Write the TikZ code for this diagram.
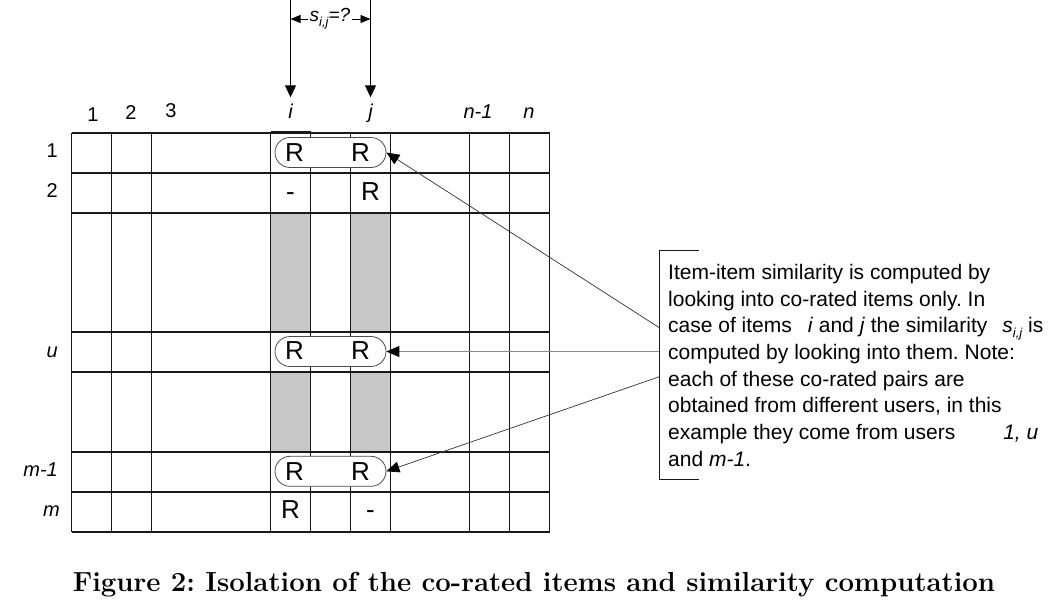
\documentclass[tikz,border=0pt]{standalone}
\usepackage{fontspec}
\newfontfamily\hv{Liberation Sans}
\usetikzlibrary{arrows.meta,shapes.misc}
\newcommand{\mysub}[1]{\raisebox{-5pt}{\fontsize{13}{13}\selectfont #1}}
\frenchspacing
\begin{document}
\begin{tikzpicture}[x=1pt,y=-1pt,
  gridline/.style={line width=1.25pt, draw=black!90},
  thickseg/.style={line width=2.2pt, draw=black!90},
  shade/.style={fill=black!22, draw=none},
  pill/.style={rounded rectangle, draw=black!70, line width=0.8pt, fill=white,
    minimum width=111pt, minimum height=30pt, inner sep=0pt},
  cell/.style={font=\hv\fontsize{26}{26}\selectfont, anchor=base, inner sep=0pt},
  lab/.style={font=\hv\fontsize{20}{20}\selectfont, anchor=base, inner sep=0pt},
  ilab/.style={font=\hv\itshape\fontsize{20}{20}\selectfont, anchor=base, inner sep=0pt},
  conn/.style={line width=0.7pt, draw=black!80, -{Triangle[length=13pt,width=11pt,color=black]}},
  connlight/.style={line width=1.1pt, draw=black!45, -{Triangle[length=13pt,width=11pt,color=black]}},
  toparr/.style={line width=1pt, draw=black, -{Triangle[length=12pt,width=11pt]}},
  harr/.style={line width=0.9pt, draw=black, -{Triangle[length=10pt,width=8pt]}},
  bracket/.style={line width=1pt, draw=black!90},
  notetext/.style={font=\hv\fontsize{21}{26.7}\selectfont, align=left, inner sep=0pt, anchor=north west},
  captext/.style={font=\fontsize{27.6}{32}\selectfont\bfseries, inner sep=0pt}]
\fill[white] (0,0) rectangle (1064,614);
\useasboundingbox (0,0) rectangle (1064,614);

% shaded cells
\fill[shade] (270.5,213) rectangle (310.5,332);
\fill[shade] (350.5,213) rectangle (390.5,332);
\fill[shade] (270.5,372) rectangle (310.5,452);
\fill[shade] (350.5,372) rectangle (390.5,452);

% grid
\foreach \x in {71.5,111.5,151.5,270.5,310.5,350.5,390.5,469.5,509.5,549.5}
  \draw[gridline] (\x,133) -- (\x,532);
\foreach \y in {133,173,213,332,372,452,492,532}
  \draw[gridline] (71.5,\y) -- (549.5,\y);
\draw[thickseg] (270.5,132.5) -- (310.5,132.5);
\draw[thickseg] (270.5,213) -- (310.5,213);
\draw[thickseg] (350.5,213) -- (390.5,213);
\draw[thickseg] (270.5,532) -- (310.5,532);
\draw[thickseg] (350.5,532) -- (390.5,532);

% pills
\node[pill] (p1) at (330.5,152.5) {};
\node[pill] (pu) at (330.5,351.5) {};
\node[pill] (pm) at (330.5,471.3) {};

% cell entries
\node[cell] (r1i) at (294.5,161) {R};
\node[cell] (r1j) at (360.5,161) {R};
\node[cell] (r2i) at (290.5,200) {-};
\node[cell] (r2j) at (370.5,200) {R};
\node[cell] (rui) at (294.5,359.5) {R};
\node[cell] (ruj) at (360.5,359.5) {R};
\node[cell] (rmai) at (294.5,480) {R};
\node[cell] (rmaj) at (360.5,480) {R};
\node[cell] (rmi) at (290.5,518.5) {R};
\node[cell] (rmj) at (370.5,518.5) {-};

% column labels
\node[lab] (c1) at (93,121.5) {1};
\node[lab] (c2) at (131,119) {2};
\node[lab] (c3) at (171,117) {3};
\node[ilab] (ci) at (290.5,118) {i};
\node[ilab] (cj) at (370.5,118) {j};
\node[ilab] (cn1) at (478,118) {n-1};
\node[ilab] (cn) at (529,118) {n};

% row labels
\node[lab, anchor=base east] (w1) at (58,157) {1};
\node[lab, anchor=base east] (w2) at (58,197) {2};
\node[ilab, anchor=base east] (wu) at (58,357) {u};
\node[ilab, anchor=base east] (wma) at (58,476) {m-1};
\node[ilab, anchor=base east] (wm) at (60,516) {m};

% top arrows
\coordinate (ti) at (290.5,0);
\coordinate (tj) at (370.5,0);
\draw[toparr] (ti) -- ([yshift=6pt]ci.north);
\draw[toparr] (tj) -- ([yshift=6pt]cj.north);
\coordinate (hi) at (290.5,19);
\coordinate (hj) at (370.5,19);
\node[font=\hv\itshape\fontsize{19}{19}\selectfont, inner sep=1.5pt] (sij) at (330,19) {s\mysub{i,j}=?};
\draw[harr] (sij) -- (hi);
\draw[harr] (sij) -- (hj);

% note bracket
\coordinate (bt) at (698.7,250.7);
\coordinate (btl) at (659.3,250.7);
\coordinate (bbl) at (659.3,479);
\coordinate (bb) at (698.7,479);
\draw[bracket] (bt) -- (btl) -- (bbl) -- (bb);

\node[notetext] (note) at (668,264) {Item-item similarity is computed by\\
looking into co-rated items only. In\\
case of items\hspace{16pt}\textit{i} and \textit{j} the similarity\hspace{15pt}\textit{s\mysub{i,j}} is\\
computed by looking into them. Note:\\
each of these co-rated pairs are\\
obtained from different users, in this\\
example they come from users\hspace{48pt}\textit{1, u}\\
and \textit{m-1}.};

% connectors
\coordinate (a1) at (659.3,327.7);
\coordinate (a2) at (659.3,351.5);
\coordinate (a3) at (659.3,376.7);
\draw[conn] (a1) -- (p1.east);
\draw[connlight] (a2) -- (pu.east);
\draw[conn] (a3) -- (pm.east);

% caption
\node[captext] (cap) at (534,585) {Figure 2: Isolation of the co-rated items and similarity computation};
\end{tikzpicture}
\end{document}
